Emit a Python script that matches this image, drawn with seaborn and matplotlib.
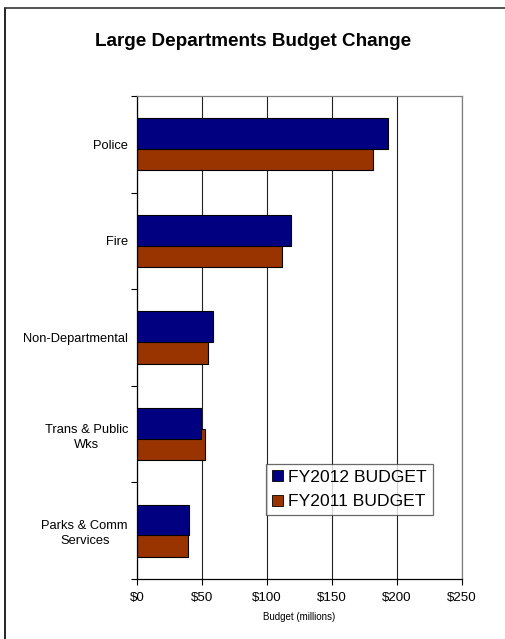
import matplotlib
matplotlib.use("Agg")
import matplotlib.pyplot as plt
from matplotlib.lines import Line2D
from matplotlib.ticker import FixedLocator
import seaborn as sns
import pandas as pd

# ---- data ----
departments = ["Police", "Fire", "Non-Departmental", "Trans & Public\nWks", "Parks & Comm\nServices"]
fy2012_budget = [193.4, 118.5, 58.2, 49.0, 39.8]
fy2011_budget = [181.5, 111.8, 54.4, 52.6, 39.0]
series_names = ["FY2012 BUDGET", "FY2011 BUDGET"]
x_ticks = [0, 50, 100, 150, 200, 250]
x_tick_labels = [r"\$0", r"\$50", r"\$100", r"\$150", r"\$200", r"\$250"]
title = "Large Departments Budget Change"
x_label = "Budget (millions)"

df = pd.DataFrame({
    "dept": departments * 2,
    "budget": fy2012_budget + fy2011_budget,
    "series": [series_names[0]] * len(departments) + [series_names[1]] * len(departments),
})

sns.set_style("white")
plt.rcParams["font.family"] = ["Liberation Sans", "DejaVu Sans"]
plt.rcParams["text.color"] = "black"
plt.rcParams["axes.labelcolor"] = "black"
plt.rcParams["xtick.color"] = "black"
plt.rcParams["ytick.color"] = "black"

W, H = 506, 639
fig = plt.figure(figsize=(W / 100, H / 100), dpi=100)
ax_left, ax_right, ax_top, ax_bottom = 137, 462, 96, 579
ax = fig.add_axes([ax_left / W, (H - ax_bottom) / H, (ax_right - ax_left) / W, (ax_bottom - ax_top) / H])

colors = ["#000080", "#993300"]
sns.barplot(data=df, y="dept", x="budget", hue="series", orient="h",
            palette=colors, saturation=1, width=0.444, edgecolor="black", linewidth=0.8,
            ax=ax, legend=True)

# overlapping bars (Excel-style): enlarge each bar about its centre
bar_h = 0.32
for i, container in enumerate(ax.containers):
    for bar in container:
        c = bar.get_y() + bar.get_height() / 2
        bar.set_y(c - bar_h / 2)
        bar.set_height(bar_h)
        bar.set_zorder(3 if i == 0 else 2)

ax.set_xlim(0, 250)
ax.set_ylim(len(departments) - 0.5, -0.5)
ax.set_xticks(x_ticks)
ax.set_xticklabels(x_tick_labels, fontsize=9.6)
ax.set_yticks(range(len(departments)))
ax.set_yticklabels(departments, fontsize=9.3, linespacing=1.35, ha="right", multialignment="center")
ax.yaxis.set_minor_locator(FixedLocator([i - 0.5 for i in range(len(departments) + 1)]))
ax.tick_params(axis="y", which="major", length=0, pad=6.5)
ax.tick_params(axis="y", which="minor", length=4, width=0.8, color="black", direction="out", left=True)
ax.tick_params(axis="x", which="major", length=4, width=0.8, color="black", direction="out", bottom=True, pad=5)

ax.set_xlabel(x_label, fontsize=7, labelpad=6)
ax.set_ylabel("")

ax.set_axisbelow(True)
ax.xaxis.grid(True, color="#222222", linewidth=0.8)
ax.yaxis.grid(False)

for s in ["left", "bottom"]:
    ax.spines[s].set_color("black")
    ax.spines[s].set_linewidth(0.9)
for s in ["top", "right"]:
    ax.spines[s].set_color("#808080")
    ax.spines[s].set_linewidth(0.9)

leg = ax.legend(loc="upper left", bbox_to_anchor=(266 / W, (H - 464) / H),
                bbox_transform=fig.transFigure, borderaxespad=0,
                fontsize=12.6, frameon=True, fancybox=False,
                handlelength=0.63, handleheight=0.63, handletextpad=0.32,
                borderpad=0.33, labelspacing=0.55)
leg.get_frame().set_edgecolor("#444444")
leg.get_frame().set_linewidth(0.9)
for t in leg.get_texts():
    t.set_color("black")
for h in leg.legend_handles:
    h.set_edgecolor("black")
    h.set_linewidth(0.6)

fig.text(253.5 / W, 1 - 42 / H, title, fontsize=13.6, fontweight="bold",
         ha="center", va="center", color="black")

# outer chart border
fig.add_artist(Line2D([5 / W, 5 / W], [0, 1 - 8 / H], transform=fig.transFigure, color="black", lw=1.2))
fig.add_artist(Line2D([5 / W, 1], [1 - 8 / H, 1 - 8 / H], transform=fig.transFigure, color="#333333", lw=1.2))

fig.savefig("out.png", dpi=100)
